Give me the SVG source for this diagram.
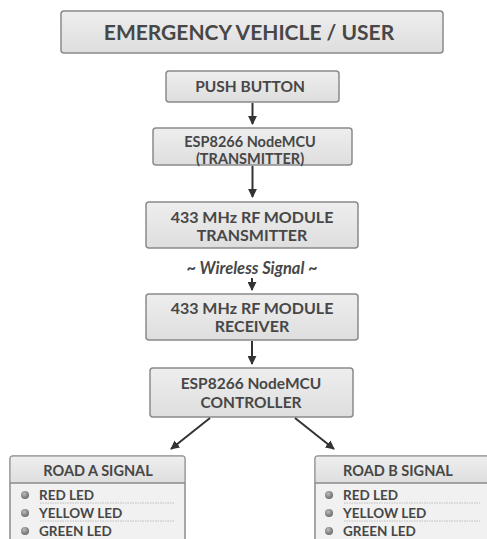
<svg xmlns="http://www.w3.org/2000/svg" width="487" height="539" viewBox="0 0 487 539">
<defs>
<linearGradient id="g" x1="0" y1="0" x2="0" y2="1"><stop offset="0" stop-color="#eeeeee"/><stop offset="1" stop-color="#dedede"/></linearGradient>
<marker id="ah" viewBox="0 0 10 10" refX="9" refY="5" markerWidth="4.5" markerHeight="4.5" orient="auto" markerUnits="strokeWidth"><path d="M0,0 L10,5 L0,10 z" fill="#333"/></marker>
<radialGradient id="dot" cx="0.4" cy="0.35" r="0.7"><stop offset="0" stop-color="#bbbbbb"/><stop offset="1" stop-color="#666666"/></radialGradient>
</defs>
<style>
.box{fill:url(#g);stroke:#8a8a8a;stroke-width:1.5}
.t{font-family:Lato,"Open Sans",sans-serif;font-weight:bold;fill:#474747;text-anchor:middle}
.l{font-family:Lato,"Open Sans",sans-serif;font-weight:bold;fill:#474747;font-size:13.5px}
.c{stroke:#333;stroke-width:2;fill:none;marker-end:url(#ah)}
.sep{stroke:#bdbdbd;stroke-width:1;stroke-dasharray:1.5 1}
.panel{fill:#f1f1f1;stroke:#8a8a8a;stroke-width:1.5}
</style>
<rect width="487" height="539" fill="#ffffff"/>
<g id="user">
<rect class="box" x="61" y="11" width="382" height="42" rx="3"/>
<text class="t" x="249" y="40" font-size="21">EMERGENCY VEHICLE / USER</text>
</g>
<g id="button">
<rect class="box" x="166" y="71" width="173" height="31" rx="3"/>
<text class="t" x="250" y="92" font-size="15.5">PUSH BUTTON</text>
</g>
<g id="esp-tx">
<rect class="box" x="153" y="128" width="199" height="37" rx="3"/>
<text class="t" x="250" y="146.5" font-size="14.5">ESP8266 NodeMCU</text>
<text class="t" x="250" y="164" font-size="14.5">(TRANSMITTER)</text>
</g>
<g id="rf-tx">
<rect class="box" x="146" y="202" width="212" height="46" rx="3"/>
<text class="t" x="252" y="222.5" font-size="16">433 MHz RF MODULE</text>
<text class="t" x="252" y="241" font-size="16">TRANSMITTER</text>
</g>
<g id="wireless">
<text class="t" x="252" y="274" font-size="16.5" font-style="italic">~ Wireless Signal ~</text>
</g>
<g id="rf-rx">
<rect class="box" x="146" y="294" width="212" height="46" rx="3"/>
<text class="t" x="252" y="313.5" font-size="16">433 MHz RF MODULE</text>
<text class="t" x="252" y="332" font-size="16">RECEIVER</text>
</g>
<g id="esp-ctrl">
<rect class="box" x="150" y="368" width="203" height="49" rx="3"/>
<text class="t" x="251" y="388.5" font-size="15.5">ESP8266 NodeMCU</text>
<text class="t" x="251" y="407.5" font-size="15.5">CONTROLLER</text>
</g>
<g id="road-a">
<rect class="panel" x="10" y="456" width="175" height="95" rx="3"/>
<rect x="10.75" y="456.75" width="173.5" height="26.25" fill="url(#g)"/>
<line x1="10" y1="483" x2="185" y2="483" stroke="#8a8a8a" stroke-width="1.5"/>
<text class="t" x="98" y="476" font-size="14.5">ROAD A SIGNAL</text>
<circle cx="25" cy="495" r="4" fill="url(#dot)"/>
<text class="l" x="39" y="499.5">RED LED</text>
<line class="sep" x1="40" y1="503" x2="175" y2="503"/>
<circle cx="25" cy="513" r="4" fill="url(#dot)"/>
<text class="l" x="39" y="517.5">YELLOW LED</text>
<line class="sep" x1="40" y1="521" x2="175" y2="521"/>
<circle cx="25" cy="531" r="4" fill="url(#dot)"/>
<text class="l" x="39" y="535.5">GREEN LED</text>
</g>
<g id="road-b">
<rect class="panel" x="315" y="456" width="180" height="95" rx="3"/>
<rect x="315.75" y="456.75" width="178" height="26.25" fill="url(#g)"/>
<line x1="315" y1="483" x2="495" y2="483" stroke="#8a8a8a" stroke-width="1.5"/>
<text class="t" x="398" y="476" font-size="14.5">ROAD B SIGNAL</text>
<circle cx="329" cy="495" r="4" fill="url(#dot)"/>
<text class="l" x="343" y="499.5">RED LED</text>
<line class="sep" x1="344" y1="503" x2="480" y2="503"/>
<circle cx="329" cy="513" r="4" fill="url(#dot)"/>
<text class="l" x="343" y="517.5">YELLOW LED</text>
<line class="sep" x1="344" y1="521" x2="480" y2="521"/>
<circle cx="329" cy="531" r="4" fill="url(#dot)"/>
<text class="l" x="343" y="535.5">GREEN LED</text>
</g>
<g id="connectors">
<line class="c" x1="252.5" y1="103" x2="252.5" y2="124"/>
<line class="c" x1="252.5" y1="166" x2="252.5" y2="197"/>
<line class="c" x1="252" y1="278" x2="252" y2="290"/>
<line class="c" x1="252" y1="341" x2="252" y2="364"/>
<line class="c" x1="210" y1="418" x2="171" y2="449"/>
<line class="c" x1="295" y1="418" x2="334" y2="449"/>
</g>
</svg>
